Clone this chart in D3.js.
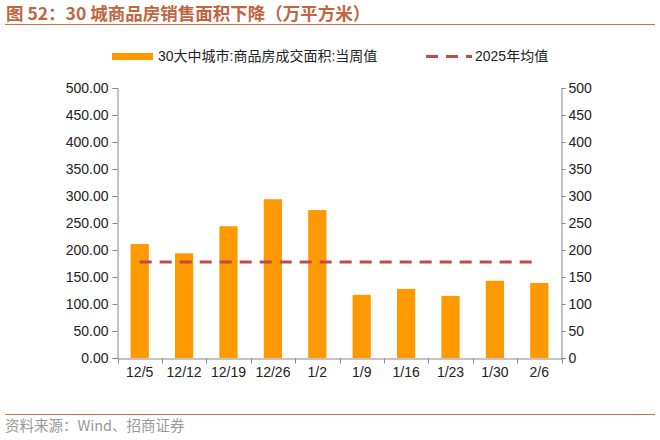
<!DOCTYPE html>
<html>
<head>
<meta charset="utf-8">
<script src="https://cdn.jsdelivr.net/npm/d3@7"></script>
<style>
  body { margin: 0; background: #fff; }
  text { font-family: "Liberation Sans", Arial, "Noto Sans CJK SC", sans-serif; }
</style>
</head>
<body>
<script>
var width = 660,
  height = 440;

// 数据
var weeks = ["12/5", "12/12", "12/19", "12/26", "1/2", "1/9", "1/16", "1/23", "1/30", "2/6"];
var area = [211, 194, 244, 294, 274, 117, 128, 115, 143, 139];
var avg2025 = [178, 178, 178, 178, 178, 178, 178, 178, 178, 178];
var leftTicks = [0, 50, 100, 150, 200, 250, 300, 350, 400, 450, 500];

var svg = d3.select("body").append("svg")
  .attr("width", width)
  .attr("height", height);

// 标题
svg.append("text")
  .attr("x", 6)
  .attr("y", 20)
  .attr("fill", "#C0653F")
  .attr("font-size", 17.5)
  .attr("font-weight", "bold")
  .style("font-family", "'Noto Sans CJK SC', sans-serif")
  .text("图 52：30 城商品房销售面积下降（万平方米）");

svg.append("line")
  .attr("x1", 5).attr("x2", 655)
  .attr("y1", 24.5).attr("y2", 24.5)
  .attr("stroke", "#C8714F")
  .attr("stroke-width", 1);

// 比例尺
var x = d3.scaleBand()
  .domain(weeks)
  .range([117.5, 561.5])
  .paddingInner(0.59)
  .paddingOuter(0.295);

var y = d3.scaleLinear()
  .domain([0, 500])
  .range([358, 88]);

// 左轴
var yLeft = svg.append("g")
  .attr("transform", "translate(117.5,0)")
  .call(d3.axisLeft(y).tickValues(leftTicks).tickSize(5).tickFormat(d3.format(".2f")));

// 右轴
var yRight = svg.append("g")
  .attr("transform", "translate(561.5,0)")
  .call(d3.axisRight(y).tickValues(leftTicks).tickSize(4).tickFormat(d3.format("d")));

// x 轴（刻度在类目之间）
var xAxis = svg.append("g")
  .attr("transform", "translate(0,358.5)")
  .call(d3.axisBottom(x).tickSize(0).tickPadding(9));

var bounds = weeks.map(w => x(w) - x.step() * x.paddingInner() / 2);
bounds.push(561.5);
xAxis.selectAll(".sep")
  .data(bounds)
  .enter()
  .append("line")
  .attr("class", "sep")
  .attr("x1", d => Math.round(d) + 0.5)
  .attr("x2", d => Math.round(d) + 0.5)
  .attr("y1", 0).attr("y2", 5)
  .attr("stroke", "#888");

[yLeft, yRight, xAxis].forEach(g => {
  g.select(".domain").attr("stroke", "#888");
  g.selectAll(".tick line").attr("stroke", "#888");
  g.selectAll("text").attr("fill", "#222").attr("font-size", 14);
});
yLeft.selectAll("text").attr("dx", -1);

// 柱
svg.append("g").selectAll("rect")
  .data(area)
  .enter()
  .append("rect")
  .attr("x", (d, i) => x(weeks[i]))
  .attr("width", x.bandwidth())
  .attr("y", d => y(d))
  .attr("height", d => y(0) - y(d))
  .attr("fill", "#FF9900");

// 2025年均值 虚线
var line = d3.line()
  .x((d, i) => x(weeks[i]) + x.bandwidth() / 2)
  .y(d => y(d));

svg.append("path")
  .datum(avg2025)
  .attr("d", line)
  .attr("fill", "none")
  .attr("stroke", "#BE4B48")
  .attr("stroke-width", 3)
  .attr("stroke-dasharray", "12,8");

// 图例
var legend = svg.append("g");
legend.append("rect")
  .attr("x", 112).attr("y", 53)
  .attr("width", 41).attr("height", 7)
  .attr("fill", "#FF9900");
legend.append("text")
  .attr("x", 158).attr("y", 61)
  .attr("font-size", 14)
  .attr("fill", "#222")
  .text("30大中城市:商品房成交面积:当周值");
legend.append("line")
  .attr("x1", 426).attr("x2", 472)
  .attr("y1", 56.5).attr("y2", 56.5)
  .attr("stroke", "#BE4B48")
  .attr("stroke-width", 3)
  .attr("stroke-dasharray", "12,8");
legend.append("text")
  .attr("x", 475).attr("y", 61)
  .attr("font-size", 14)
  .attr("fill", "#222")
  .text("2025年均值");

// 来源
svg.append("line")
  .attr("x1", 5).attr("x2", 655)
  .attr("y1", 414.5).attr("y2", 414.5)
  .attr("stroke", "#C8714F")
  .attr("stroke-width", 1);

svg.append("text")
  .attr("x", 5)
  .attr("y", 431)
  .attr("font-size", 14.5)
  .attr("fill", "#999")
  .style("font-family", "'Noto Sans CJK SC', sans-serif")
  .text("资料来源：Wind、招商证券");
</script>
</body>
</html>
